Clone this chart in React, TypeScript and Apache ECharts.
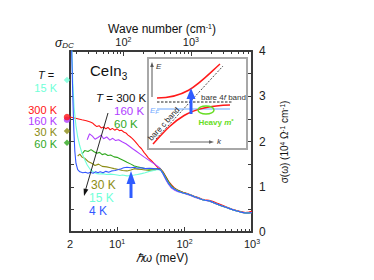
import React, { useEffect, useRef } from "react";
import * as echarts from "echarts";

const FONT = '"Liberation Sans", Arial, Helvetica, sans-serif';
const CM_PER_MEV = 8.0655;

// ---- axes ----
const energyMin = 2;
const energyMax = 1000;
const energyLabelTicks = [2, 10, 100, 1000];
const energyMajorTicks = [10, 100];
const energyMinorTicks = [3, 4, 5, 6, 7, 8, 9, 20, 30, 40, 50, 60, 70, 80, 90, 200, 300, 400, 500, 600, 700, 800, 900];
const waveLabelTicks = [100, 1000];
const waveMinorTicks = [20, 30, 40, 50, 60, 70, 80, 90, 200, 300, 400, 500, 600, 700, 800, 900, 2000, 3000, 4000, 5000, 6000, 7000, 8000];
const sigmaMin = 0;
const sigmaMax = 4;
const sigmaStep = 0.5;

// ---- spectra: photon energy (meV) and sigma (10^4 Ohm^-1 cm^-1) ----
const e300 = [2.0, 2.5, 3.0, 3.5, 4.0, 4.3, 4.6, 5.0, 5.4, 5.8, 6.3, 6.8, 7.3, 7.9, 8.5, 9.2, 10, 10.8, 11.6, 12.5, 13.5, 14.5, 15.5, 16.7, 18, 19.5, 21, 23, 25, 27, 29, 32, 35, 38, 41, 44, 48, 53, 58, 64, 70, 80, 95, 110, 125, 140, 160, 180, 200, 230, 260, 300, 350, 420, 500, 580, 680, 800, 900, 1000];
const s300 = [2.54, 2.51, 2.48, 2.46, 2.43, 2.41, 2.37, 2.33, 2.35, 2.30, 2.32, 2.28, 2.31, 2.26, 2.29, 2.25, 2.28, 2.24, 2.25, 2.21, 2.19, 2.14, 2.11, 2.07, 2.02, 1.96, 1.90, 1.84, 1.76, 1.70, 1.64, 1.58, 1.52, 1.46, 1.41, 1.39, 1.33, 1.22, 1.12, 1.04, 0.98, 0.92, 0.88, 0.85, 0.82, 0.79, 0.76, 0.73, 0.71, 0.70, 0.68, 0.64, 0.60, 0.55, 0.51, 0.48, 0.45, 0.43, 0.44, 0.46];

const e160 = [3.6, 3.9, 4.3, 4.7, 5.2, 5.8, 6.3, 7, 7.8, 8.6, 9.5, 10.5, 12, 13.5, 15, 17, 19, 22, 25, 28, 32, 37, 41, 44, 48, 53, 58, 64, 70, 80, 95, 110, 125, 140, 160, 180, 200, 230, 260, 300, 350, 420, 500, 580, 680, 800, 900, 1000];
const s160 = [2.04, 2.17, 2.12, 2.05, 2.09, 2.14, 2.06, 2.10, 2.03, 2.07, 2.02, 2.04, 1.99, 1.95, 1.90, 1.84, 1.79, 1.72, 1.66, 1.61, 1.55, 1.49, 1.44, 1.40, 1.28, 1.15, 1.05, 0.97, 0.93, 0.89, 0.86, 0.83, 0.80, 0.77, 0.74, 0.72, 0.70, 0.68, 0.66, 0.62, 0.58, 0.54, 0.50, 0.47, 0.44, 0.42, 0.42, 0.43];

const e60 = [3.0, 3.3, 3.7, 4.1, 4.5, 5.0, 5.5, 6.0, 6.6, 7.3, 8, 9, 10, 11, 12.5, 14, 16, 18, 20, 23, 26, 30, 35, 40, 44, 48, 53, 58, 64, 70, 80, 95, 110, 125, 140, 160, 180, 200, 230, 260, 300, 350, 420, 500, 580, 680, 800, 900, 1000];
const s60 = [1.72, 1.80, 1.78, 1.82, 1.78, 1.74, 1.76, 1.71, 1.73, 1.69, 1.70, 1.66, 1.65, 1.62, 1.58, 1.54, 1.50, 1.46, 1.44, 1.42, 1.40, 1.39, 1.39, 1.40, 1.39, 1.32, 1.21, 1.11, 1.02, 0.97, 0.92, 0.87, 0.84, 0.81, 0.78, 0.75, 0.72, 0.70, 0.69, 0.66, 0.62, 0.58, 0.54, 0.50, 0.47, 0.44, 0.42, 0.42, 0.43];

const e30 = [2.6, 2.8, 3.0, 3.3, 3.7, 4.2, 4.7, 5.3, 6, 7, 8, 9, 10.5, 12, 14, 16, 18, 20, 23, 26, 30, 35, 40, 44, 48, 53, 58, 64, 70, 80, 95, 110, 125, 140, 160, 180, 200, 230, 260, 300, 350, 420, 500, 580, 680, 800, 900, 1000];
const s30 = [1.68, 1.72, 1.66, 1.63, 1.56, 1.52, 1.47, 1.50, 1.45, 1.44, 1.42, 1.40, 1.38, 1.36, 1.35, 1.37, 1.40, 1.39, 1.38, 1.37, 1.36, 1.37, 1.39, 1.38, 1.30, 1.18, 1.08, 1.00, 0.96, 0.91, 0.87, 0.84, 0.81, 0.78, 0.75, 0.72, 0.70, 0.69, 0.66, 0.62, 0.58, 0.54, 0.50, 0.47, 0.44, 0.42, 0.42, 0.43];

const e15 = [2.1, 2.2, 2.3, 2.45, 2.6, 2.8, 3.0, 3.3, 3.6, 4.0, 4.5, 5, 5.5, 6, 7, 8, 9, 10, 11, 12, 14, 16, 18, 20, 23, 26, 30, 35, 40, 44, 48, 53, 58, 64, 70, 80, 95, 110, 125, 140, 160, 180, 200, 230, 260, 300, 350, 420, 500, 580, 680, 800, 900, 1000];
const s15 = [4.4, 3.3, 2.75, 2.35, 2.1, 1.9, 1.75, 1.6, 1.48, 1.38, 1.32, 1.29, 1.28, 1.29, 1.27, 1.28, 1.27, 1.26, 1.25, 1.26, 1.24, 1.25, 1.26, 1.27, 1.29, 1.31, 1.34, 1.36, 1.38, 1.37, 1.29, 1.17, 1.07, 0.99, 0.95, 0.90, 0.86, 0.84, 0.81, 0.78, 0.75, 0.72, 0.70, 0.69, 0.66, 0.62, 0.58, 0.54, 0.50, 0.47, 0.44, 0.42, 0.42, 0.43];

const e4 = [2.05, 2.12, 2.2, 2.28, 2.36, 2.45, 2.6, 2.8, 3.1, 3.4, 3.7, 4.0, 4.4, 4.8, 5.2, 5.6, 6.2, 6.8, 7.5, 8.3, 9.3, 10.5, 11.5, 12.5, 14, 16, 18, 20, 23, 26, 30, 35, 40, 44, 48, 53, 58, 64, 70, 80, 95, 110, 125, 140, 160, 180, 200, 230, 260, 300, 350, 420, 500, 580, 680, 800, 900, 1000];
const s4 = [5.0, 4.0, 3.0, 2.25, 1.78, 1.52, 1.38, 1.33, 1.31, 1.32, 1.30, 1.32, 1.30, 1.33, 1.31, 1.33, 1.31, 1.34, 1.32, 1.35, 1.36, 1.38, 1.40, 1.42, 1.43, 1.42, 1.43, 1.41, 1.42, 1.40, 1.41, 1.40, 1.39, 1.37, 1.29, 1.17, 1.07, 0.99, 0.95, 0.90, 0.86, 0.84, 0.81, 0.78, 0.75, 0.72, 0.70, 0.69, 0.66, 0.62, 0.58, 0.54, 0.50, 0.47, 0.44, 0.42, 0.42, 0.43];

// ---- DC conductivity markers ----
const dcTemps = ["160 K", "300 K", "15 K", "30 K", "60 K"];
const dcValues = [2.48, 2.54, 3.36, 2.23, 1.97];
const dcSymbols = ["circle", "circle", "diamond", "diamond", "diamond"];

const COLORS: Record<string, string> = {
  "300 K": "#ff1414",
  "160 K": "#b040ff",
  "60 K": "#2fa81e",
  "30 K": "#8c8c14",
  "15 K": "#70ffd8",
  "4 K": "#3358ff",
};

const curves = [
  { name: "300 K", e: e300, s: s300 },
  { name: "160 K", e: e160, s: s160 },
  { name: "60 K", e: e60, s: s60 },
  { name: "30 K", e: e30, s: s30 },
  { name: "15 K", e: e15, s: s15 },
  { name: "4 K", e: e4, s: s4 },
];

const lg = (v: number) => Math.log10(v);

const supRich = {
  n: { fontSize: 11, fontFamily: FONT, color: "#222", lineHeight: 11 },
  sup: { fontSize: 7, fontFamily: FONT, color: "#222", verticalAlign: "top", lineHeight: 7 },
};

function expLabel(v: number) {
  const real = Math.round(Math.pow(10, v));
  if (real === 2) return "{n|2}";
  return "{n|10}{sup|" + Math.round(v) + "}";
}

function txt(x: number, y: number, text: string, o: any = {}) {
  return {
    type: "text",
    x,
    y,
    z: 100,
    style: {
      text,
      fontFamily: FONT,
      fontSize: o.size || 11,
      lineHeight: o.lh,
      fill: o.color || "#111",
      fontStyle: o.italic ? "italic" : "normal",
      fontWeight: o.bold ? "bold" : "normal",
      align: o.align || "left",
      textAlign: o.align || "left",
      verticalAlign: "middle",
      textVerticalAlign: "middle",
      rich: o.rich,
    },
    rotation: o.rotation || 0,
  };
}

function buildOption() {
  const xMin = lg(energyMin);
  const xMax = lg(energyMax);
  const tMin = lg(energyMin * CM_PER_MEV);
  const tMax = lg(energyMax * CM_PER_MEV);
  const axisLine = { show: true, lineStyle: { color: "#3a3a3a", width: 2 } };

  const series: any[] = curves.map((c) => ({
    type: "line",
    name: c.name,
    xAxisIndex: 0,
    yAxisIndex: 0,
    symbol: "none",
    showSymbol: false,
    clip: true,
    data: c.e.map((e, i) => [lg(e), c.s[i]]),
    lineStyle: { color: COLORS[c.name], width: 1.1 },
    z: 2,
  }));
  series.push({
    type: "scatter",
    xAxisIndex: 0,
    yAxisIndex: 0,
    clip: false,
    z: 5,
    symbolOffset: [-3, 0],
    data: dcValues.map((v, i) => ({
      value: [xMin, v],
      symbol: dcSymbols[i],
      symbolSize: 6.5,
      itemStyle: { color: COLORS[dcTemps[i]] },
    })),
  });

  const italic = { fontStyle: "italic", fontFamily: FONT };

  const graphics: any[] = [
    // titles
    txt(162, 29, "Wave number (cm{s|-1})", {
      size: 12,
      align: "center",
      rich: { s: { fontSize: 7, fontFamily: FONT, verticalAlign: "top", lineHeight: 8, fill: "#111" } },
    }),
    txt(162, 258, "{i|ℏω} (meV)", { size: 12, align: "center", rich: { i: { ...italic, fontSize: 12 } } }),
    txt(55, 43, "{i|σ}{d|DC}", {
      size: 11,
      rich: {
        i: { ...italic, fontSize: 12, lineHeight: 13 },
        d: { ...italic, fontSize: 8, verticalAlign: "bottom", lineHeight: 11 },
      },
    }),
    txt(284, 142, "σ(ω) (10{s|4} Ω{s|-1} cm{s|-1})", {
      size: 10,
      align: "center",
      rotation: Math.PI / 2,
      rich: { s: { fontSize: 6.5, fontFamily: FONT, verticalAlign: "top", lineHeight: 8 } },
    }),
    // left legend
    txt(38, 75, "{i|T} =", { size: 11, rich: { i: { ...italic, fontSize: 11 } } }),
    txt(57, 88, "15 K", { color: COLORS["15 K"], align: "right", lh: 10 }),
    txt(57, 110, "300 K", { color: COLORS["300 K"], align: "right", lh: 10 }),
    txt(57, 121, "160 K", { color: COLORS["160 K"], align: "right", lh: 10 }),
    txt(57, 132, "30 K", { color: COLORS["30 K"], align: "right", lh: 10 }),
    txt(57, 144, "60 K", { color: COLORS["60 K"], align: "right", lh: 10 }),
    // in-plot labels
    txt(90, 70, "CeIn{b|3}", {
      size: 15,
      rich: { b: { fontSize: 10, fontFamily: FONT, verticalAlign: "bottom", lineHeight: 22 } },
    }),
    txt(96, 98, "{i|T} = {r|300 K}", {
      size: 11.5,
      rich: {
        i: { ...italic, fontSize: 11.5, lineHeight: 11 },
        r: { fontSize: 11.5, fontFamily: FONT, color: COLORS["300 K"], lineHeight: 11 },
      },
    }),
    txt(114, 111, "160 K", { size: 11.5, color: COLORS["160 K"], lh: 11 }),
    txt(114, 124, "60 K", { size: 11.5, color: COLORS["60 K"], lh: 11 }),
    txt(91, 185, "30 K", { size: 12, color: COLORS["30 K"], lh: 12 }),
    txt(89, 198, "15 K", { size: 12, color: COLORS["15 K"], lh: 12 }),
    txt(89, 211, "4 K", { size: 12, color: COLORS["4 K"], lh: 12 }),
    // black temperature arrow
    { type: "line", z: 50, shape: { x1: 108, y1: 113, x2: 85.5, y2: 190 }, style: { stroke: "#111", lineWidth: 0.9 } },
    { type: "polygon", z: 50, shape: { points: [[84, 196], [88.4, 189.5], [83.6, 188.4]] }, style: { fill: "#111" } },
    // blue arrow main plot
    { type: "rect", z: 50, shape: { x: 129.5, y: 182, width: 3, height: 16 }, style: { fill: "#2f5cff" } },
    { type: "polygon", z: 50, shape: { points: [[131, 171], [126.5, 184], [135.5, 184]] }, style: { fill: "#2f5cff" } },
    // ---- inset ----
    { type: "rect", z: 60, shape: { x: 148, y: 58, width: 99, height: 91 }, style: { fill: "#fff", stroke: "#a8a8a8", lineWidth: 2 } },
    { type: "line", z: 61, shape: { x1: 152, y1: 97, x2: 152, y2: 65 }, style: { stroke: "#555", lineWidth: 1 } },
    { type: "polygon", z: 61, shape: { points: [[152, 62], [150.2, 67], [153.8, 67]] }, style: { fill: "#555" } },
    { type: "line", z: 61, shape: { x1: 170, y1: 142, x2: 210, y2: 142 }, style: { stroke: "#666", lineWidth: 1 } },
    { type: "polygon", z: 61, shape: { points: [[214, 142], [209, 140.2], [209, 143.8]] }, style: { fill: "#666" } },
    { ...txt(156, 66, "E", { size: 8, italic: true, color: "#333" }), z: 62 },
    { ...txt(217, 141, "k", { size: 8, italic: true, color: "#333" }), z: 62 },
    { type: "line", z: 61, shape: { x1: 156, y1: 139, x2: 223, y2: 66 }, style: { stroke: "#222", lineWidth: 0.8, lineDash: [2, 1.5] } },
    { type: "line", z: 61, shape: { x1: 157, y1: 102, x2: 232, y2: 102 }, style: { stroke: "#222", lineWidth: 1, lineDash: [2.5, 1.5] } },
    { type: "line", z: 61, shape: { x1: 157, y1: 109, x2: 230, y2: 109 }, style: { stroke: "#6fa8ff", lineWidth: 1.2 } },
    {
      type: "bezierCurve", z: 62,
      shape: { x1: 157, y1: 98, cpx1: 188, cpy1: 98, cpx2: 200, cpy2: 82, x2: 220, y2: 64 },
      style: { stroke: "#ff1a1a", lineWidth: 1.5, fill: "none" },
    },
    {
      type: "bezierCurve", z: 62,
      shape: { x1: 153, y1: 144, cpx1: 174, cpy1: 121, cpx2: 186, cpy2: 106, x2: 230, y2: 105 },
      style: { stroke: "#ff1a1a", lineWidth: 1.5, fill: "none" },
    },
    { type: "rect", z: 63, shape: { x: 189.5, y: 98, width: 3, height: 16 }, style: { fill: "#2f5cff" } },
    { type: "polygon", z: 63, shape: { points: [[191, 88], [186.5, 99], [195.5, 99]] }, style: { fill: "#2f5cff" } },
    { type: "ellipse", z: 63, shape: { cx: 206, cy: 110, rx: 8, ry: 4 }, style: { fill: "none", stroke: "#66dd22", lineWidth: 1.5 } },
    { ...txt(201, 97, "bare 4{i|f} band", { size: 8, color: "#333", rich: { i: { ...italic, fontSize: 8, fill: "#333" } } }), z: 64 },
    { ...txt(216, 122, "Heavy {i|m}{s|*}", {
      size: 8, bold: true, color: "#66dd22", align: "center",
      rich: {
        i: { ...italic, fontSize: 8, fontWeight: "bold", color: "#66dd22" },
        s: { fontSize: 6, fontFamily: FONT, fontWeight: "bold", color: "#66dd22", verticalAlign: "top", lineHeight: 8 },
      },
    }), z: 64 },
    { ...txt(150, 110, "{i|E}{d|F}", {
      size: 8, color: "#6fa8ff",
      rich: {
        i: { ...italic, fontSize: 8, color: "#6fa8ff", lineHeight: 10 },
        d: { ...italic, fontSize: 6, color: "#6fa8ff", verticalAlign: "bottom", lineHeight: 10 },
      },
    }), z: 64 },
    { ...txt(164, 124, "bare c band", { size: 8, color: "#222", align: "center", rotation: 0.83 }), z: 64 },
  ];

  return {
    animation: false,
    backgroundColor: "#ffffff",
    grid: { left: 70, right: 122, top: 51, bottom: 48, containLabel: false },
    xAxis: [
      {
        type: "value", position: "bottom", min: xMin, max: xMax,
        axisLine, splitLine: { show: false },
        axisTick: { show: true, inside: true, length: 5, customValues: energyMajorTicks.map(lg), lineStyle: { color: "#3a3a3a", width: 1 } },
        axisLabel: { show: true, margin: 6, customValues: energyLabelTicks.map(lg), formatter: expLabel, rich: supRich },
      },
      {
        type: "value", position: "bottom", min: xMin, max: xMax,
        axisLine: { show: false }, splitLine: { show: false },
        axisTick: { show: true, inside: true, length: 3, customValues: energyMinorTicks.map(lg), lineStyle: { color: "#3a3a3a", width: 1 } },
        axisLabel: { show: false },
      },
      {
        type: "value", position: "top", min: tMin, max: tMax,
        axisLine, splitLine: { show: false },
        axisTick: { show: true, inside: true, length: 5, customValues: waveLabelTicks.map(lg), lineStyle: { color: "#3a3a3a", width: 1 } },
        axisLabel: { show: true, margin: 4, customValues: waveLabelTicks.map(lg), formatter: expLabel, rich: supRich },
      },
      {
        type: "value", position: "top", min: tMin, max: tMax,
        axisLine: { show: false }, splitLine: { show: false },
        axisTick: { show: true, inside: true, length: 3, customValues: waveMinorTicks.map(lg), lineStyle: { color: "#3a3a3a", width: 1 } },
        axisLabel: { show: false },
      },
    ],
    yAxis: [
      {
        type: "value", position: "right", min: sigmaMin, max: sigmaMax, interval: sigmaStep,
        axisLine, splitLine: { show: false },
        axisTick: { show: true, inside: true, length: 4, lineStyle: { color: "#3a3a3a", width: 1 } },
        axisLabel: {
          margin: 7, fontSize: 12, lineHeight: 10, fontFamily: FONT, color: "#222",
          formatter: (v: number) => (Math.abs(v - Math.round(v)) < 1e-6 ? String(Math.round(v)) : ""),
        },
      },
      {
        type: "value", position: "left", min: sigmaMin, max: sigmaMax, interval: sigmaStep,
        axisLine, splitLine: { show: false },
        axisTick: { show: true, inside: true, length: 4, lineStyle: { color: "#3a3a3a", width: 1 } },
        axisLabel: { show: false },
      },
    ],
    series,
    graphic: graphics,
  };
}

export default function App() {
  const ref = useRef<HTMLDivElement>(null);
  useEffect(() => {
    if (!ref.current) return;
    const chart = echarts.init(ref.current, null, { renderer: "svg" });
    chart.setOption(buildOption() as any);
    return () => chart.dispose();
  }, []);
  return (
    <div
      ref={ref}
      style={{ position: "absolute", left: 0, top: 0, width: 374, height: 280, background: "#fff" }}
    />
  );
}
